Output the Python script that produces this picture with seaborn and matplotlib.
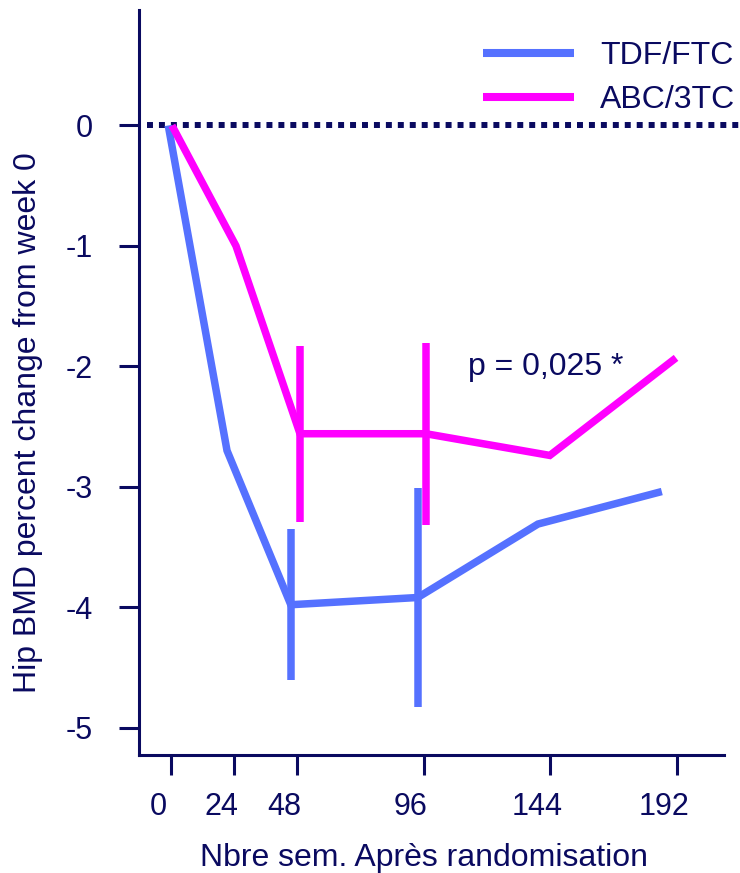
import numpy as np
import pandas as pd
import matplotlib
matplotlib.use("Agg")
import matplotlib.pyplot as plt
import matplotlib.transforms as mtransforms
from matplotlib.lines import Line2D
import seaborn as sns

# Hip BMD percent change from week 0, by arm
series_names = ["TDF/FTC", "ABC/3TC"]
tdf_weeks = [-1, 21.3, 45.5, 93.7, 139.3, 186.3]
tdf_change = [0.0, -2.70, -3.98, -3.92, -3.31, -3.04]
tdf_err = [np.nan, np.nan, 0.625, 0.91, np.nan, np.nan]
abc_weeks = [0.4, 24.7, 49.0, 96.8, 143.8, 191.7]
abc_change = [0.0, -1.00, -2.56, -2.56, -2.74, -1.93]
abc_err = [np.nan, np.nan, 0.73, 0.755, np.nan, np.nan]

xticks = [0, 24, 48, 96, 144, 192]
xtick_labels = ["0", "24", "48", "96", "144", "192"]
yticks = [0, -1, -2, -3, -4, -5]
ytick_labels = ["0", "-1", "-2", "-3", "-4", "-5"]

x_label = "Nbre sem. Après randomisation"
y_label = "Hip BMD percent change from week 0"
p_text = "p = 0,025 *"

NAVY = "#0a0a60"
BLUE = "#5571ff"
MAGENTA = "#ff00ff"

sns.set_theme(style="white")
plt.rcParams["font.family"] = ["Liberation Sans", "DejaVu Sans"]
plt.rcParams["axes.unicode_minus"] = False

df = pd.concat([
    pd.DataFrame({"series": series_names[0], "week": tdf_weeks,
                  "change": tdf_change, "err": tdf_err}),
    pd.DataFrame({"series": series_names[1], "week": abc_weeks,
                  "change": abc_change, "err": abc_err}),
], ignore_index=True)
palette = {series_names[0]: BLUE, series_names[1]: MAGENTA}

fig = plt.figure(figsize=(7.40, 8.73), dpi=100)
ax = fig.add_axes([139 / 740, 1 - 755 / 873, 585 / 740, 745 / 873])

# reference line at zero change
ax.axhline(0, xmin=0.0137, xmax=1.05, color=NAVY, lw=4.3,
           linestyle=(0, (1, 1)), dash_capstyle="butt", clip_on=False, zorder=1)

sns.lineplot(data=df, x="week", y="change", hue="series", palette=palette,
             sort=False, errorbar=None, legend=False, linewidth=5.4, ax=ax,
             zorder=3)
for ln in ax.get_lines()[1:]:
    ln.set_solid_joinstyle("miter")
    ln.set_solid_capstyle("butt")

# error bars at weeks 48 and 96
for name in series_names:
    sub = df[(df.series == name) & df.err.notna()]
    ax.vlines(sub.week, sub.change - sub.err, sub.change + sub.err,
              colors=palette[name], linewidth=5.4, zorder=3,
              capstyle="butt")

ax.set_xlim(-12.1, 209.9)
ax.set_ylim(-5.228, 0.959)
ax.set_xticks(xticks)
ax.set_xticklabels(xtick_labels)
ax.set_yticks(yticks)
ax.set_yticklabels(ytick_labels)

for side in ["top", "right"]:
    ax.spines[side].set_visible(False)
for side in ["left", "bottom"]:
    ax.spines[side].set_color(NAVY)
    ax.spines[side].set_linewidth(2.2)

ax.tick_params(axis="both", direction="out", length=14.4, width=2.2,
               color=NAVY, labelcolor=NAVY, labelsize=22)
ax.tick_params(axis="y", pad=19, left=True)
ax.tick_params(axis="x", pad=12, bottom=True)
shift = mtransforms.ScaledTranslation(-13 / 100, 0, fig.dpi_scale_trans)
for lab in ax.get_xticklabels():
    lab.set_transform(lab.get_transform() + shift)

ax.set_xlabel(x_label, fontsize=23, color=NAVY)
ax.set_ylabel(y_label, fontsize=23, color=NAVY, va="center")
ax.xaxis.set_label_coords((424 - 139) / 585, (755 - 858) / 745)
ax.xaxis.label.set_va("center")
ax.yaxis.set_label_coords((28 - 139) / 585, (755 - 423) / 745)

ax.text((468 - 139) / 585, (755 - 375) / 745, p_text, transform=ax.transAxes,
        fontsize=23, color=NAVY, ha="left", va="baseline")

handles = [Line2D([], [], color=palette[n], lw=5.8, solid_capstyle="butt")
           for n in series_names]
leg = ax.legend(handles, series_names, loc="upper left",
                bbox_to_anchor=(483 / 740, 1 - 41 / 873),
                bbox_transform=fig.transFigure, frameon=False, fontsize=23,
                handlelength=2.85, handletextpad=0.82, labelspacing=0.45,
                borderpad=0, borderaxespad=0)
for t in leg.get_texts():
    t.set_color(NAVY)

fig.savefig("out.png", dpi=100)
